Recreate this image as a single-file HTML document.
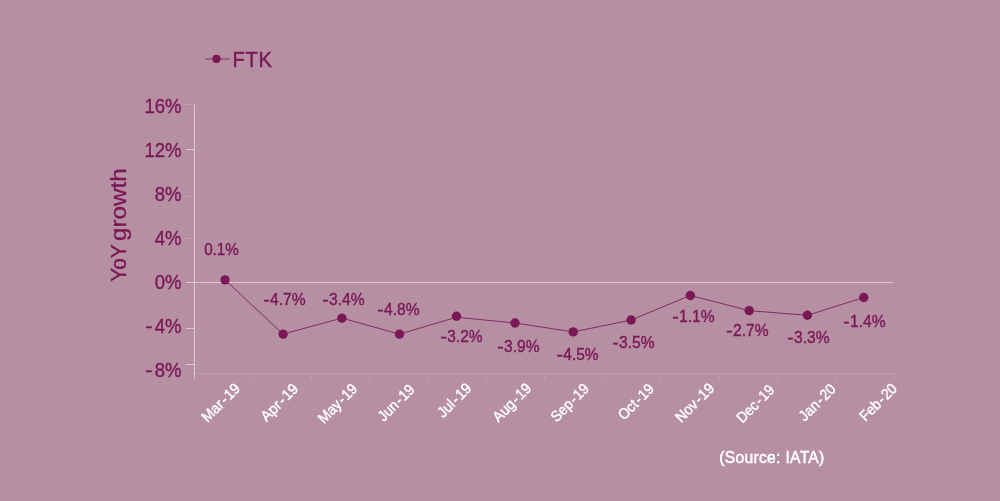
<!DOCTYPE html>
<html>
<head>
<meta charset="utf-8">
<title>FTK YoY growth</title>
<style>
html,body{margin:0;padding:0;background:#b78fa3;}
body{width:1000px;height:501px;overflow:hidden;}
svg{display:block;}
text{font-family:"Liberation Sans",sans-serif;}
.d{fill:#7a1856;}
.w{fill:#ffffff;}
</style>
</head>
<body>
<svg width="1000" height="501" viewBox="0 0 1000 501">
<rect x="0" y="0" width="1000" height="501" fill="#b78fa3"/>

<!-- axes -->
<g fill="#dec6d4">
  <rect x="194" y="105" width="1" height="274"/>
  <rect x="186" y="149" width="8" height="1"/>
  <rect x="186" y="282" width="707" height="1"/>
  <rect x="186" y="328" width="8" height="1"/>
  <rect x="186" y="364" width="8" height="1"/>
</g>
<g fill="#c29fb1">
  <rect x="186" y="104" width="9" height="1"/>
  <rect x="186" y="196" width="8" height="1"/>
  <rect x="186" y="238" width="8" height="1"/>
  <rect x="195" y="373" width="699" height="1"/>
  <rect x="253" y="374" width="1" height="5"/>
  <rect x="311" y="374" width="1" height="5"/>
  <rect x="369" y="374" width="1" height="5"/>
  <rect x="427" y="374" width="1" height="5"/>
  <rect x="486" y="374" width="1" height="5"/>
  <rect x="544" y="374" width="1" height="5"/>
  <rect x="602" y="374" width="1" height="5"/>
  <rect x="660" y="374" width="1" height="5"/>
  <rect x="719" y="374" width="1" height="5"/>
  <rect x="777" y="374" width="1" height="5"/>
  <rect x="835" y="374" width="1" height="5"/>
  <rect x="893" y="374" width="1" height="5"/>
</g>
<!-- legend -->
<line x1="205.2" y1="59" x2="229.6" y2="59" stroke="#7a1856" stroke-width="1" stroke-opacity="0.8"/>
<circle cx="216.5" cy="58.9" r="4.1" class="d"/>
<text class="d" font-size="22" stroke="#7a1856" stroke-width="0.4" letter-spacing="0.6" transform="translate(232.6,66.6) scale(0.92,1)">FTK</text>
<!-- y axis labels -->
<g class="d" font-size="20.6" text-anchor="end" stroke="#7a1856" stroke-width="0.4">
  <text transform="translate(181.45,113.4) scale(0.9,1)">16%</text>
  <text transform="translate(181.45,157.4) scale(0.9,1)">12%</text>
  <text transform="translate(181.45,201.4) scale(0.9,1)">8%</text>
  <text transform="translate(181.45,245.4) scale(0.9,1)">4%</text>
  <text transform="translate(181.45,289.4) scale(0.9,1)">0%</text>
  <text transform="translate(181.45,333.4) scale(0.9,1)"><tspan textLength="8" lengthAdjust="spacingAndGlyphs">-</tspan><tspan dx="2.5">4%</tspan></text>
  <text transform="translate(181.45,377.4) scale(0.9,1)"><tspan textLength="8" lengthAdjust="spacingAndGlyphs">-</tspan><tspan dx="2.5">8%</tspan></text>
</g>
<!-- y title -->
<text class="d" font-size="22" stroke="#7a1856" stroke-width="0.35" transform="translate(126.3,281.7) rotate(-90)"><tspan x="0" textLength="42.8" lengthAdjust="spacingAndGlyphs">YoY </tspan><tspan x="40.8" textLength="72.6" lengthAdjust="spacingAndGlyphs">growth</tspan></text>
<!-- series -->
<polyline fill="none" stroke="#7a1856" stroke-width="0.85" points="225.1,279.85 283.1,334.1 341.95,318.1 399.55,334.1 456.5,317.2 515,323 573.2,331.9 631.1,320.05 690.35,295.45 749.2,310.65 807.4,315.3 863.8,297.45"/>
<g class="d">
  <circle cx="225.1" cy="279.85" r="4.7"/>
  <circle cx="283.1" cy="334.1" r="4.7"/>
  <circle cx="341.95" cy="318.1" r="4.7"/>
  <circle cx="399.55" cy="334.1" r="4.7"/>
  <circle cx="456.5" cy="316.3" r="4.7"/>
  <circle cx="515" cy="323" r="4.7"/>
  <circle cx="573.2" cy="331.9" r="4.7"/>
  <circle cx="631.1" cy="320.05" r="4.7"/>
  <circle cx="690.35" cy="295.45" r="4.7"/>
  <circle cx="749.2" cy="310.65" r="4.7"/>
  <circle cx="807.4" cy="315.3" r="4.7"/>
  <circle cx="863.8" cy="297.45" r="4.7"/>
</g>
<!-- data labels -->
<g class="d" font-size="16.5" stroke="#7a1856" stroke-width="0.4">
  <text transform="translate(204.15,254.5) scale(0.9201,1)">0.1%</text>
  <text transform="translate(263.15,304.75) scale(0.9481,1)"><tspan textLength="6.8" lengthAdjust="spacingAndGlyphs">-</tspan><tspan dx="0.4">4.7%</tspan></text>
  <text transform="translate(322.2,304.75) scale(0.9458,1)"><tspan textLength="6.8" lengthAdjust="spacingAndGlyphs">-</tspan><tspan dx="0.4">3.4%</tspan></text>
  <text transform="translate(377.2,314.75) scale(0.9458,1)"><tspan textLength="6.8" lengthAdjust="spacingAndGlyphs">-</tspan><tspan dx="0.4">4.8%</tspan></text>
  <text transform="translate(440.5,341.75) scale(0.9391,1)"><tspan textLength="6.8" lengthAdjust="spacingAndGlyphs">-</tspan><tspan dx="0.4">3.2%</tspan></text>
  <text transform="translate(497.2,351.7) scale(0.9458,1)"><tspan textLength="6.8" lengthAdjust="spacingAndGlyphs">-</tspan><tspan dx="0.4">3.9%</tspan></text>
  <text transform="translate(556.5,359.8) scale(0.9402,1)"><tspan textLength="6.8" lengthAdjust="spacingAndGlyphs">-</tspan><tspan dx="0.4">4.5%</tspan></text>
  <text transform="translate(612.2,347.7) scale(0.9458,1)"><tspan textLength="6.8" lengthAdjust="spacingAndGlyphs">-</tspan><tspan dx="0.4">3.5%</tspan></text>
  <text transform="translate(672.2,321.7) scale(0.9458,1)"><tspan textLength="6.8" lengthAdjust="spacingAndGlyphs">-</tspan><tspan dx="0.4">1.1%</tspan></text>
  <text transform="translate(726.2,335.55) scale(0.9458,1)"><tspan textLength="6.8" lengthAdjust="spacingAndGlyphs">-</tspan><tspan dx="0.4">2.7%</tspan></text>
  <text transform="translate(787.2,342.5) scale(0.9458,1)"><tspan textLength="6.8" lengthAdjust="spacingAndGlyphs">-</tspan><tspan dx="0.4">3.3%</tspan></text>
  <text transform="translate(843.2,326.8) scale(0.9458,1)"><tspan textLength="6.8" lengthAdjust="spacingAndGlyphs">-</tspan><tspan dx="0.4">1.4%</tspan></text>
</g>
<!-- x labels -->
<g class="w" font-size="15" text-anchor="end" stroke="#ffffff" stroke-width="0.4">
  <text transform="translate(241.05,389.45) rotate(-45) scale(0.9471,1)">Mar<tspan dx="1.3">-</tspan><tspan dx="1.3">19</tspan></text>
  <text transform="translate(299.2,389.65) rotate(-45) scale(0.9701,1)">Apr<tspan dx="1.3">-</tspan><tspan dx="1.3">19</tspan></text>
  <text transform="translate(358.25,389.9) rotate(-45) scale(0.9214,1)">May<tspan dx="1.3">-</tspan><tspan dx="1.3">19</tspan></text>
  <text transform="translate(415.5,390.5) rotate(-45) scale(0.9258,1)">Jun<tspan dx="1.3">-</tspan><tspan dx="1.3">19</tspan></text>
  <text transform="translate(472.5,389.2) rotate(-45) scale(0.9542,1)">Jul<tspan dx="1.3">-</tspan><tspan dx="1.3">19</tspan></text>
  <text transform="translate(532.25,389.3) rotate(-45) scale(0.9342,1)">Aug<tspan dx="1.3">-</tspan><tspan dx="1.3">19</tspan></text>
  <text transform="translate(589.9,389.55) rotate(-45) scale(0.9211,1)">Sep<tspan dx="1.3">-</tspan><tspan dx="1.3">19</tspan></text>
  <text transform="translate(654.95,389.9) rotate(-45) scale(0.9192,1)">Oct<tspan dx="1.3">-</tspan><tspan dx="1.3">19</tspan></text>
  <text transform="translate(715.2,389.3) rotate(-45) scale(0.9399,1)">Nov<tspan dx="1.3">-</tspan><tspan dx="1.3">19</tspan></text>
  <text transform="translate(775.25,390.95) rotate(-45) scale(0.9101,1)">Dec<tspan dx="1.3">-</tspan><tspan dx="1.3">19</tspan></text>
  <text transform="translate(836.6,390.15) rotate(-45) scale(0.9291,1)">Jan<tspan dx="1.3">-</tspan><tspan dx="1.3">20</tspan></text>
  <text transform="translate(898.0,389.55) rotate(-45) scale(0.9175,1)">Feb<tspan dx="1.3">-</tspan><tspan dx="1.3">20</tspan></text>
</g>
<!-- source -->
<text class="w" font-size="16" stroke="#ffffff" stroke-width="0.5" letter-spacing="0.3" transform="translate(719.2,463) scale(0.98,1)">(Source: IATA)</text>
</svg>
</body>
</html>
